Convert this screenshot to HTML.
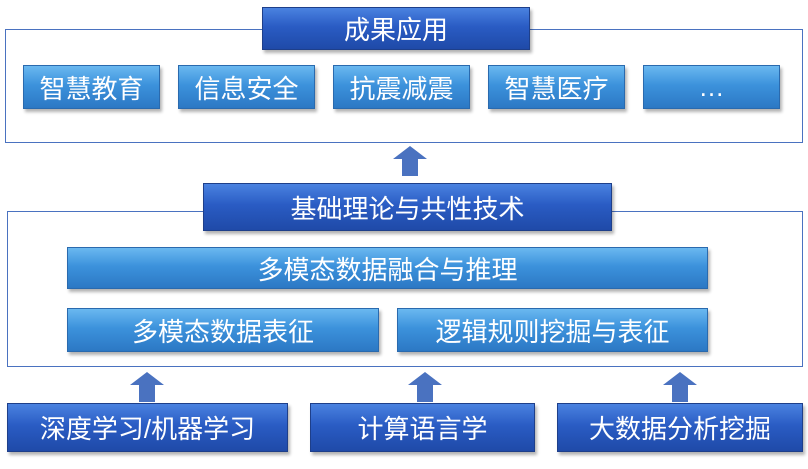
<html><head><style>
body{margin:0;width:808px;height:469px;background:#fff;position:relative;overflow:hidden;font-family:"Liberation Sans","Noto Sans CJK SC",sans-serif}
.f{position:absolute;border:1.5px solid #4a72c0;box-sizing:border-box}
.b{position:absolute;box-sizing:border-box;color:#fff;display:flex;align-items:center;justify-content:center;font-size:26px;box-shadow:2px 3px 3px rgba(0,0,0,.3);border:1px solid #2a5a9a}
.d{background:linear-gradient(#4a82e0,#2a5cc4 45%,#1f4aa8);border-color:#1e3f8a}
.l{background:linear-gradient(#6ab8f0,#3c92dc 45%,#2c78c4);border-color:#2a6aae}
.a{position:absolute;width:34px;height:30px}
</style></head><body>
<div class="f" style="left:5px;top:29px;width:798px;height:114px"></div>
<div class="b d" style="left:262px;top:7px;width:268px;height:43px">成果应用</div>
<div class="b l" style="left:23px;top:65px;width:137px;height:44px">智慧教育</div>
<div class="b l" style="left:178px;top:65px;width:137px;height:44px">信息安全</div>
<div class="b l" style="left:333px;top:65px;width:137px;height:44px">抗震减震</div>
<div class="b l" style="left:488px;top:65px;width:137px;height:44px">智慧医疗</div>
<div class="b l" style="left:643px;top:65px;width:137px;height:44px">…</div>
<svg class="a" style="left:393px;top:146px" viewBox="0 0 34 30"><polygon points="17,0 34,13 25,13 25,30 9,30 9,13 0,13" fill="#4a72c0"/></svg>
<div class="f" style="left:7px;top:211px;width:796px;height:156px"></div>
<div class="b d" style="left:203px;top:183px;width:409px;height:48px">基础理论与共性技术</div>
<div class="b l" style="left:67px;top:247px;width:641px;height:42px">多模态数据融合与推理</div>
<div class="b l" style="left:67px;top:308px;width:312px;height:44px">多模态数据表征</div>
<div class="b l" style="left:397px;top:308px;width:311px;height:44px">逻辑规则挖掘与表征</div>
<svg class="a" style="left:130px;top:372px" viewBox="0 0 34 30"><polygon points="17,0 34,13 25,13 25,30 9,30 9,13 0,13" fill="#4a72c0"/></svg>
<svg class="a" style="left:408px;top:372px" viewBox="0 0 34 30"><polygon points="17,0 34,13 25,13 25,30 9,30 9,13 0,13" fill="#4a72c0"/></svg>
<svg class="a" style="left:663px;top:372px" viewBox="0 0 34 30"><polygon points="17,0 34,13 25,13 25,30 9,30 9,13 0,13" fill="#4a72c0"/></svg>
<div class="b d" style="left:7px;top:403px;width:281px;height:49px">深度学习/机器学习</div>
<div class="b d" style="left:310px;top:403px;width:225px;height:49px">计算语言学</div>
<div class="b d" style="left:557px;top:403px;width:246px;height:49px">大数据分析挖掘</div>
</body></html>
